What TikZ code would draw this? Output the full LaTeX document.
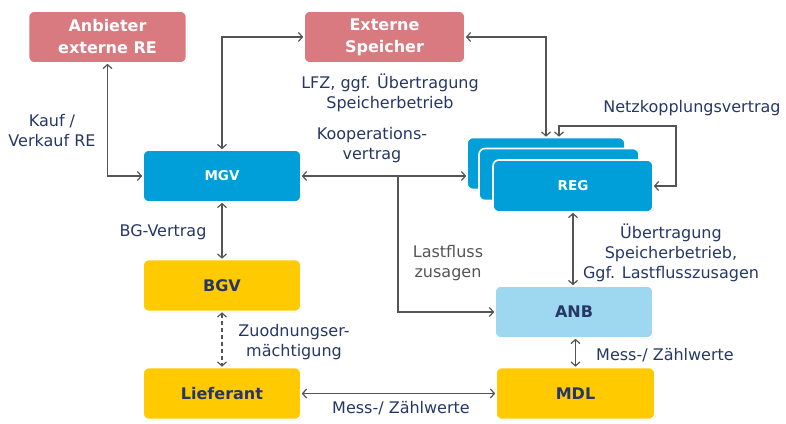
\documentclass[tikz,border=0pt]{standalone}
\usepackage{fontspec}
\setmainfont{DejaVu Sans}
\usetikzlibrary{arrows.meta,shadows,calc}

\definecolor{rolepink}{HTML}{D97A80}
\definecolor{roleblue}{HTML}{009FDA}
\definecolor{rolelight}{HTML}{9DD8F0}
\definecolor{roleyellow}{HTML}{FFCA00}
\definecolor{navytext}{HTML}{263766}
\definecolor{linegray}{HTML}{555555}

\tikzset{
  x=1pt, y=-1pt,
  rolebox/.style={rounded corners=6pt, draw=white, line width=1.6pt,
    minimum width=158pt, minimum height=52pt, align=center, inner sep=2pt,
    font=\bfseries\fontsize{16}{22}\selectfont,
    drop shadow={opacity=0.22, shadow xshift=0.8pt, shadow yshift=-0.8pt}},
  pinkbox/.style={rolebox, fill=rolepink, text=white},
  bluebox/.style={rolebox, fill=roleblue, text=white, font=\bfseries\fontsize{13.5}{18}\selectfont},
  lightbox/.style={rolebox, fill=rolelight, text=navytext},
  yellowbox/.style={rolebox, fill=roleyellow, text=navytext},
  lbl/.style={align=center, text=navytext, inner sep=0pt, font=\fontsize{16}{20}\selectfont},
  link/.style={draw=linegray, line width=1.2pt,
    {Straight Barb[length=4pt,width=9pt]}-{Straight Barb[length=4pt,width=9pt]}},
  onelink/.style={draw=linegray, line width=1.2pt, -{Straight Barb[length=4pt,width=9pt]}},
}

\begin{document}
\begin{tikzpicture}
\useasboundingbox (0,0) rectangle (786,423);

% roles
\node[pinkbox] (anbext) at (107.5,37) {Anbieter\\externe RE};
\node[pinkbox, minimum width=161pt] (ext) at (384.5,37) {Externe\\Speicher};
\node[bluebox] (mgv) at (222,176) {MGV};
\node[yellowbox] (bgv) at (222,285.5) {BGV};
\node[yellowbox] (lief) at (222,393.5) {Lieferant};

% stacked REG cards
\node[bluebox] (reg3) at (546,163.5) {};
\node[bluebox, minimum width=160pt] (reg2) at (559,174.5) {};
\node[bluebox, minimum width=160pt] (reg1) at (573,186) {REG};

\node[lightbox] (anb) at (574,312) {ANB};
\node[yellowbox, minimum width=159pt] (mdl) at (575.5,393.5) {MDL};

% helper points
\coordinate (nk) at (676,126);
\coordinate (koop) at (398,176);

% connectors
\draw[link] (anbext.south) |- (mgv.west);
\draw[link] (mgv.north) |- (ext.west);
\draw[link] (ext.east) -| (reg3.north);
\draw[link] ($(reg3.north)+(13,0)$) |- (nk) |- (reg1.east);
\draw[link] (mgv.east) -- (mgv.east -| reg3.west);
\draw[onelink] (koop) |- (anb.west);
\draw[link] (mgv.south) -- (bgv.north);
\draw[link, dash pattern=on 4pt off 3pt] (bgv.south) -- (lief.north);
\draw[link] (reg1.south) -- (reg1.south |- anb.north);
\draw[link] (anb.south -| mdl.north) -- (mdl.north);
\draw[link] (lief.east) -- (mdl.west);

% labels
\node[lbl] (lkauf) at (52,131) {Kauf /\\Verkauf RE};
\node[lbl] (llfz) at (390,93) {LFZ, ggf. Übertragung\\Speicherbetrieb};
\node[lbl] (lnetz) at (692,108) {Netzkopplungsvertrag};
\node[lbl] (lkoop) at (372,145) {Kooperations-\\vertrag};
\node[lbl] (lbg) at (163,232) {BG-Vertrag};
\node[lbl] (lzuo) at (294,342) {Zuodnungser-\\mächtigung};
\node[lbl, text=linegray] (llast) at (448,263) {Lastfluss\\zusagen};
\node[lbl] (luebt) at (671,253) {Übertragung\\Speicherbetrieb,\\Ggf. Lastflusszusagen};
\node[lbl] (lmess1) at (665,355) {Mess-/ Zählwerte};
\node[lbl] (lmess2) at (401,408) {Mess-/ Zählwerte};
\end{tikzpicture}
\end{document}
